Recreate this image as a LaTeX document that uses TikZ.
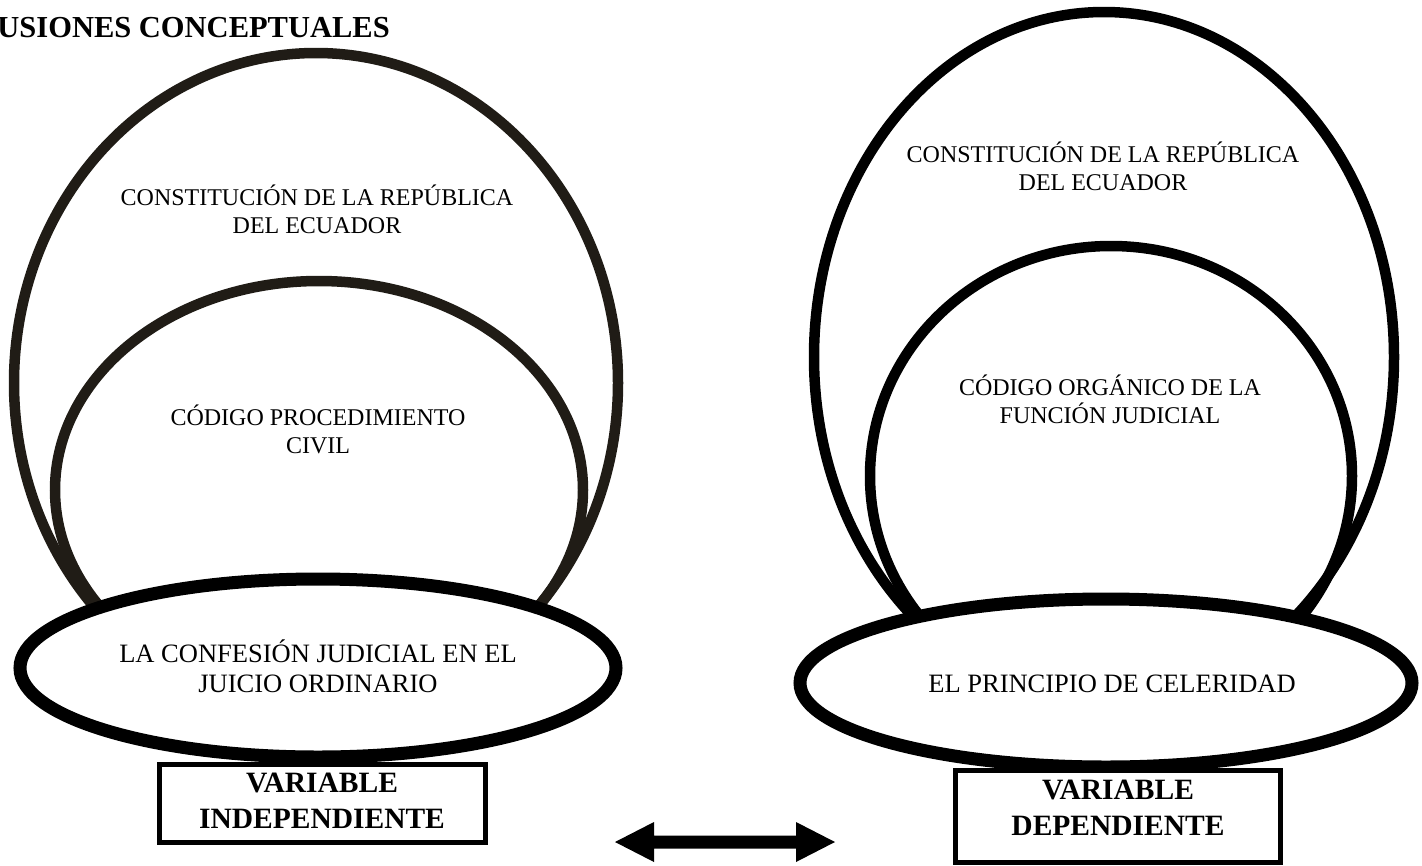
\documentclass[tikz,border=0pt]{standalone}
\usepackage{fontspec}
\setmainfont{Liberation Serif}
\usetikzlibrary{shapes.geometric}
\definecolor{darkbrown}{HTML}{201C16}
\tikzset{
  outerell/.style={draw, ellipse, line width=10.5pt, inner sep=0pt},
  baseell/.style={draw=black, fill=white, ellipse, line width=13pt, inner sep=0pt},
  smalltxt/.style={font=\fontsize{24}{27.5}\selectfont, align=center, anchor=base, inner sep=0pt},
  bigtxt/.style={font=\fontsize{26.5}{30}\selectfont, align=center, anchor=base, inner sep=0pt},
  vartxt/.style={font=\bfseries\fontsize{29.5}{36}\selectfont, align=center, anchor=base, inner sep=0pt},
  varbox/.style={draw=black, line width=5pt, inner sep=0pt, fill=white},
  titletxt/.style={font=\bfseries\fontsize{30.5}{34}\selectfont, anchor=base east, inner sep=0pt}
}
\begin{document}
\begin{tikzpicture}[x=1pt,y=-1pt]
\useasboundingbox (0,0) rectangle (1422,865);
% title
\node[titletxt] (title) at (390,37) {USIONES CONCEPTUALES};
% left group
\node[outerell, draw=darkbrown, minimum width=604pt, minimum height=660pt] (lout) at (316,383) {};
\node[outerell, draw=darkbrown, minimum width=528pt, minimum height=418pt] (lin) at (319,490) {};
\node[baseell, minimum width=596pt, minimum height=178pt] (lbase) at (318,668) {};
\node[smalltxt] (lt1) at (317,233) {CONSTITUCIÓN DE LA REPÚBLICA\\DEL ECUADOR};
\node[smalltxt] (lt2) at (318,453) {CÓDIGO PROCEDIMIENTO\\CIVIL};
\node[bigtxt] (lt3) at (318,692) {LA CONFESIÓN JUDICIAL EN EL\\JUICIO ORDINARIO};
\draw[varbox] (159.5,764.5) rectangle (485.5,842.5);
\node[vartxt] (lv) at (322,828) {VARIABLE\\INDEPENDIENTE};
% right group
\node[outerell, draw=black, minimum width=580pt, minimum height=690pt] (rout) at (1104,357) {};
\node[outerell, draw=black, minimum width=482pt, minimum height=460pt] (rin) at (1111,476) {};
\node[baseell, minimum width=612pt, minimum height=168pt] (rbase) at (1106,683) {};
\node[smalltxt] (rt1) at (1103,190) {CONSTITUCIÓN DE LA REPÚBLICA\\DEL ECUADOR};
\node[smalltxt] (rt2) at (1110,423) {CÓDIGO ORGÁNICO DE LA\\FUNCIÓN JUDICIAL};
\node[bigtxt] (rt3) at (1112,692) {EL PRINCIPIO DE CELERIDAD};
\draw[varbox] (955.5,770.5) rectangle (1280.5,862);
\node[vartxt] (rv) at (1118,835) {VARIABLE\\DEPENDIENTE};
% double arrow
\coordinate (arr) at (725,842);
\fill[black] ([xshift=-110pt]arr) -- ([xshift=-71pt,yshift=-20pt]arr) -- ([xshift=-71pt,yshift=-6.5pt]arr)
  -- ([xshift=71pt,yshift=-6.5pt]arr) -- ([xshift=71pt,yshift=-20pt]arr) -- ([xshift=110pt]arr)
  -- ([xshift=71pt,yshift=20pt]arr) -- ([xshift=71pt,yshift=6.5pt]arr) -- ([xshift=-71pt,yshift=6.5pt]arr)
  -- ([xshift=-71pt,yshift=20pt]arr) -- cycle;
\end{tikzpicture}
\end{document}
